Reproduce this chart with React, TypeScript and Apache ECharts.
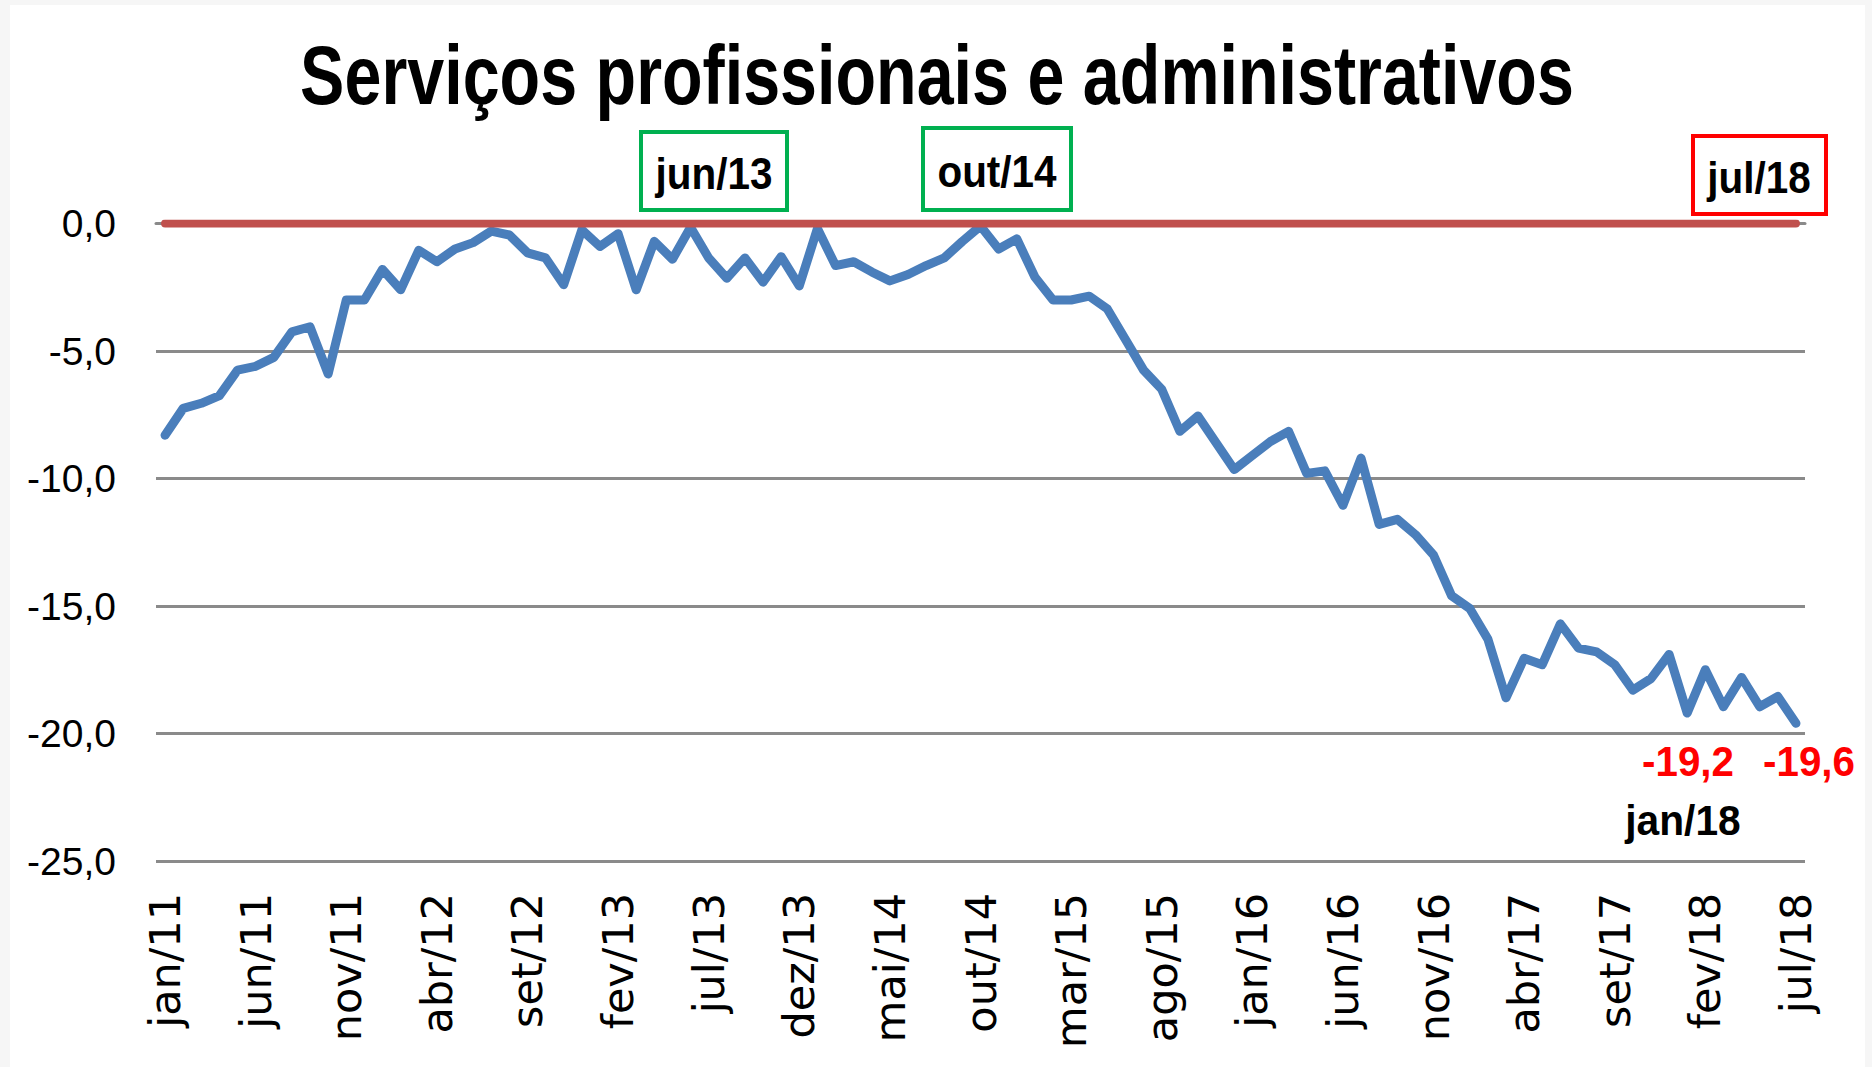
import React, { useEffect, useRef } from "react";
import * as echarts from "echarts";

const MONTHS = ["jan", "fev", "mar", "abr", "mai", "jun", "jul", "ago", "set", "out", "nov", "dez"];
const YEARS = ["11", "12", "13", "14", "15", "16", "17", "18"];
const LAST_MONTH_INDEX_2018 = 6; // jul/18

const categories: string[] = [];
YEARS.forEach((y, yi) => {
  MONTHS.forEach((m, mi) => {
    if (yi === YEARS.length - 1 && mi > LAST_MONTH_INDEX_2018) return;
    categories.push(`${m}/${y}`);
  });
});

// Index (jan/11 = 0 ... jul/18 = 90)
const values: number[] = [
  -8.3, -7.25, -7.05, -6.75, -5.75, -5.6, -5.25, -4.25, -4.05, -5.9,
  -3.0, -3.0, -1.8, -2.6, -1.05, -1.5, -1.0, -0.75, -0.3, -0.45,
  -1.15, -1.35, -2.4, -0.25, -0.9, -0.4, -2.6, -0.7, -1.4, -0.15,
  -1.35, -2.15, -1.35, -2.3, -1.3, -2.45, -0.2, -1.65, -1.5, -1.9,
  -2.25, -2.0, -1.65, -1.35, -0.7, -0.1, -1.0, -0.6, -2.1, -3.0,
  -3.0, -2.85, -3.35, -4.55, -5.75, -6.5, -8.15, -7.55, -8.6, -9.65,
  -9.1, -8.55, -8.15, -9.8, -9.7, -11.05, -9.2, -11.8, -11.6, -12.2,
  -13.0, -14.6, -15.1, -16.3, -18.6, -17.05, -17.3, -15.7, -16.65, -16.8,
  -17.3, -18.3, -17.85, -16.9, -19.2, -17.5, -18.95, -17.8, -18.95, -18.55,
  -19.6,
];

const referenceLine: number[] = categories.map(() => 0);

const yTicks = { min: -25, max: 0, interval: 5 };

const TITLE = "Serviços profissionais e administrativos";
const BOX_LABELS = ["jun/13", "out/14", "jul/18"];
const VALUE_LABELS = ["-19,2", "-19,6"];
const MONTH_NOTE = "jan/18";

export default function App() {
  const ref = useRef<HTMLDivElement>(null);

  useEffect(() => {
    if (!ref.current) return;
    const chart = echarts.init(ref.current, undefined, { renderer: "svg" });

    const boldFont = "'Liberation Sans', Arial, sans-serif";
    const boxText = (text: string, x: number, y: number) => ({
      type: "text",
      x,
      y,
      scaleX: 0.92,
      z: 20,
      style: {
        text,
        fontSize: 44,
        fontWeight: "bold",
        fontFamily: boldFont,
        fill: "#000",
        textAlign: "center",
        textVerticalAlign: "middle",
      },
    });

    const option: any = {
      animation: false,
      backgroundColor: "#ffffff",
      grid: { left: 156, right: 67, top: 223.5, bottom: 206, containLabel: false },
      xAxis: {
        type: "category",
        data: categories,
        boundaryGap: true,
        axisLine: { show: true, lineStyle: { color: "#8a8a8a", width: 3 } },
        axisTick: { show: false },
        axisLabel: {
          interval: 4,
          rotate: 90,
          margin: 32,
          fontFamily: "DejaVu Sans",
          fontSize: 43,
          color: "#000",
        },
      },
      yAxis: {
        type: "value",
        min: yTicks.min,
        max: yTicks.max,
        interval: yTicks.interval,
        axisLine: { show: false },
        axisTick: { show: false },
        splitLine: { show: true, lineStyle: { color: "#8a8a8a", width: 3 } },
        axisLabel: {
          margin: 40,
          fontFamily: "'Liberation Sans', Arial, sans-serif",
          fontSize: 39,
          color: "#000",
          formatter: (v: number) => v.toFixed(1).replace(".", ","),
        },
      },
      series: [
        {
          type: "line",
          data: values,
          symbol: "none",
          z: 3,
          lineStyle: { color: "#4A7EBB", width: 9, cap: "round", join: "round" },
        },
        {
          type: "line",
          data: referenceLine,
          symbol: "none",
          z: 4,
          lineStyle: { color: "#C0504D", width: 8, cap: "round" },
        },
      ],
      graphic: [
        { type: "rect", shape: { x: 0, y: 0, width: 10, height: 1067 }, style: { fill: "#f6f6f6" }, silent: true },
        { type: "rect", shape: { x: 0, y: 0, width: 1872, height: 5 }, style: { fill: "#f6f6f6" }, silent: true },
        { type: "rect", shape: { x: 1865, y: 0, width: 7, height: 1067 }, style: { fill: "#f6f6f6" }, silent: true },
        {
          type: "text",
          x: 937,
          y: 75,
          scaleX: 0.791,
          z: 20,
          style: {
            text: TITLE,
            fontSize: 84,
            fontWeight: "bold",
            fontFamily: boldFont,
            fill: "#000",
            textAlign: "center",
            textVerticalAlign: "middle",
          },
        },
        {
          type: "rect",
          z: 19,
          shape: { x: 641, y: 132, width: 146, height: 78 },
          style: { fill: "#fff", stroke: "#00B050", lineWidth: 4 },
        },
        {
          type: "rect",
          z: 19,
          shape: { x: 923, y: 128, width: 148, height: 82 },
          style: { fill: "#fff", stroke: "#00B050", lineWidth: 4 },
        },
        {
          type: "rect",
          z: 19,
          shape: { x: 1693, y: 136, width: 133, height: 78 },
          style: { fill: "#fff", stroke: "#FF0000", lineWidth: 4 },
        },
        boxText(BOX_LABELS[0], 714, 174),
        boxText(BOX_LABELS[1], 997, 172),
        boxText(BOX_LABELS[2], 1759, 178),
        {
          type: "text",
          x: 1688,
          y: 762,
          scaleX: 0.96,
          z: 20,
          style: {
            text: VALUE_LABELS[0],
            fontSize: 42,
            fontWeight: "bold",
            fontFamily: boldFont,
            fill: "#FF0000",
            textAlign: "center",
            textVerticalAlign: "middle",
          },
        },
        {
          type: "text",
          x: 1809,
          y: 762,
          scaleX: 0.96,
          z: 20,
          style: {
            text: VALUE_LABELS[1],
            fontSize: 42,
            fontWeight: "bold",
            fontFamily: boldFont,
            fill: "#FF0000",
            textAlign: "center",
            textVerticalAlign: "middle",
          },
        },
        {
          type: "text",
          x: 1683,
          y: 821,
          scaleX: 0.97,
          z: 20,
          style: {
            text: MONTH_NOTE,
            fontSize: 42,
            fontWeight: "bold",
            fontFamily: boldFont,
            fill: "#000",
            textAlign: "center",
            textVerticalAlign: "middle",
          },
        },
      ],
    };

    chart.setOption(option);
    return () => chart.dispose();
  }, []);

  return (
    <div
      ref={ref}
      style={{ position: "absolute", left: 0, top: 0, width: 1872, height: 1067 }}
    />
  );
}
